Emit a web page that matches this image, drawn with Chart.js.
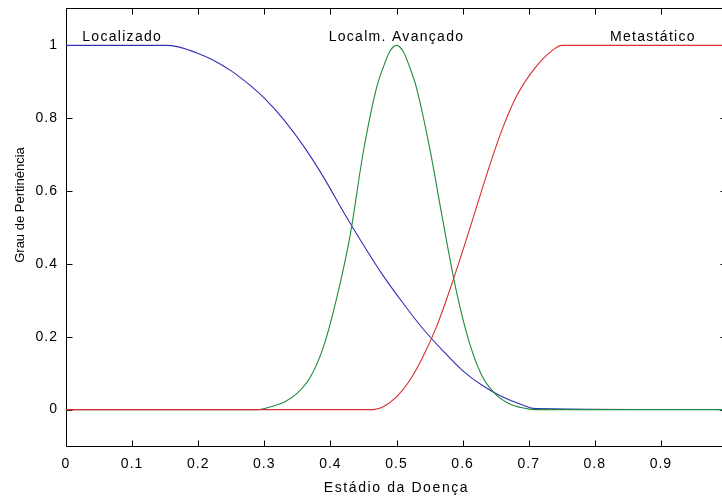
<!DOCTYPE html>
<html><head><meta charset="utf-8">
<script src="https://cdn.jsdelivr.net/npm/chart.js@4"></script>
<style>html,body{margin:0;padding:0;overflow:hidden;background:#fff}#wrap{position:absolute;left:0;top:0;width:740px;height:500px}</style>
</head><body><div id="wrap"><canvas id="c" width="740" height="500"></canvas></div>
<script>
const xTicks = [0, 0.1, 0.2, 0.3, 0.4, 0.5, 0.6, 0.7, 0.8, 0.9, 1];
const yTicks = [0, 0.2, 0.4, 0.6, 0.8, 1];
const seriesNames = ['Localizado', 'Localm. Avançado', 'Metastático'];
const labelX = [0.085, 0.5, 0.888];
const labelY = [1.024, 1.024, 1.024];
const xTitle = 'Estádio da Doença';
const yTitle = 'Grau de Pertinência';

const blueX = [0, 0.15, 0.17, 0.2, 0.22, 0.25, 0.28, 0.3, 0.33, 0.36, 0.39, 0.42, 0.45, 0.48, 0.51, 0.54, 0.57, 0.6, 0.63, 0.66, 0.69, 0.71, 1];
const blueY = [1, 1, 0.996, 0.978, 0.962, 0.93, 0.888, 0.855, 0.795, 0.722, 0.637, 0.542, 0.452, 0.367, 0.292, 0.222, 0.162, 0.107, 0.066, 0.035, 0.013, 0.003, 0];
const greenX = [0, 0.29, 0.31, 0.33, 0.35, 0.37, 0.39, 0.41, 0.43, 0.45, 0.47, 0.48, 0.49, 0.5, 0.51, 0.52, 0.53, 0.55, 0.57, 0.59, 0.61, 0.63, 0.65, 0.67, 0.69, 0.71, 1];
const greenY = [0, 0, 0.008, 0.02, 0.045, 0.09, 0.175, 0.31, 0.48, 0.71, 0.885, 0.94, 0.984, 1, 0.984, 0.94, 0.885, 0.72, 0.52, 0.33, 0.185, 0.09, 0.042, 0.017, 0.005, 0, 0];
const redX = [0, 0.465, 0.48, 0.5, 0.52, 0.54, 0.56, 0.58, 0.6, 0.62, 0.64, 0.66, 0.68, 0.7, 0.72, 0.735, 0.75, 1];
const redY = [0, 0, 0.008, 0.035, 0.08, 0.145, 0.225, 0.325, 0.435, 0.55, 0.665, 0.77, 0.855, 0.915, 0.96, 0.985, 1, 1];

const colors = ['#3030b4', '#218a3e', '#d83030'];
const FONT = '"Liberation Sans", Arial, Helvetica, sans-serif';

function pts(xs, ys) { return xs.map((x, i) => ({ x: x, y: ys[i] })); }
function fmt(v) { return String(Math.round(v * 10) / 10); }

const framePlugin = {
  id: 'frame',
  beforeDraw(chart) { chart.ctx.letterSpacing = '1px'; },
  beforeDatasetsDraw(chart) {
    const { ctx, chartArea: a, scales } = chart;
    const L = Math.round(a.left) + 0.5, R = Math.round(a.right) - 0.5;
    const T = Math.round(a.top) - 0.5, B = Math.round(a.bottom) + 0.5;
    ctx.save();
    ctx.strokeStyle = '#000';
    ctx.lineWidth = 1;
    ctx.beginPath();
    ctx.rect(L, T, R - L, B - T);
    const tl = 6;
    xTicks.forEach(v => {
      const p = Math.round(scales.x.getPixelForValue(v)) + 0.5;
      ctx.moveTo(p, B); ctx.lineTo(p, B - tl);
      ctx.moveTo(p, T); ctx.lineTo(p, T + tl);
    });
    yTicks.forEach(v => {
      const p = Math.round(scales.y.getPixelForValue(v)) + 0.5;
      ctx.moveTo(L, p); ctx.lineTo(L + tl, p);
      ctx.moveTo(R, p); ctx.lineTo(R - tl, p);
    });
    ctx.stroke();
    ctx.restore();
  },
  afterDraw(chart) {
    const { ctx, scales, chartArea: a } = chart;
    ctx.save();
    ctx.fillStyle = '#000';
    ctx.font = '14px ' + FONT;
    ctx.letterSpacing = '1.3px';
    ctx.textAlign = 'center';
    ctx.textBaseline = 'middle';
    seriesNames.forEach((n, i) => {
      ctx.fillText(n, scales.x.getPixelForValue(labelX[i]), scales.y.getPixelForValue(labelY[i]));
    });
    ctx.letterSpacing = '1.6px';
    ctx.fillText(xTitle, (a.left + a.right) / 2, 488);
    ctx.translate(20, 205);
    ctx.rotate(-Math.PI / 2);
    ctx.font = '13px ' + FONT;
    ctx.letterSpacing = '0px';
    ctx.fillText(yTitle, 0, 0);
    ctx.restore();
  }
};

new Chart(document.getElementById('c'), {
  type: 'line',
  data: {
    datasets: [
      { label: seriesNames[0], data: pts(blueX, blueY), borderColor: colors[0], order: 3 },
      { label: seriesNames[1], data: pts(greenX, greenY), borderColor: colors[1], order: 2 },
      { label: seriesNames[2], data: pts(redX, redY), borderColor: colors[2], order: 1 }
    ]
  },
  options: {
    responsive: false,
    animation: false,
    events: [],
    elements: { line: { borderWidth: 1.1, cubicInterpolationMode: 'monotone', fill: false }, point: { radius: 0 } },
    layout: { padding: { left: 0, right: 13, top: 9, bottom: 0 } },
    plugins: { legend: { display: false }, tooltip: { enabled: false } },
    scales: {
      x: {
        type: 'linear', min: 0, max: 1,
        afterBuildTicks: s => { s.ticks = xTicks.map(v => ({ value: v })); },
        afterFit: s => { s.height = 54; s.paddingLeft = 0; s.paddingRight = 0; },
        grid: { display: false, drawTicks: false },
        border: { display: false },
        ticks: { padding: 10, color: '#000', font: { family: FONT, size: 14 }, callback: v => fmt(v), maxRotation: 0, autoSkip: false }
      },
      y: {
        type: 'linear', min: -0.1, max: 1.1,
        afterBuildTicks: s => { s.ticks = yTicks.map(v => ({ value: v })); },
        afterFit: s => { s.width = 66; s.paddingTop = 0; s.paddingBottom = 0; },
        grid: { display: false, drawTicks: false },
        border: { display: false },
        ticks: { padding: 8, color: '#000', font: { family: FONT, size: 14 }, callback: v => fmt(v), autoSkip: false }
      }
    }
  },
  plugins: [framePlugin]
});
</script>
</body></html>
